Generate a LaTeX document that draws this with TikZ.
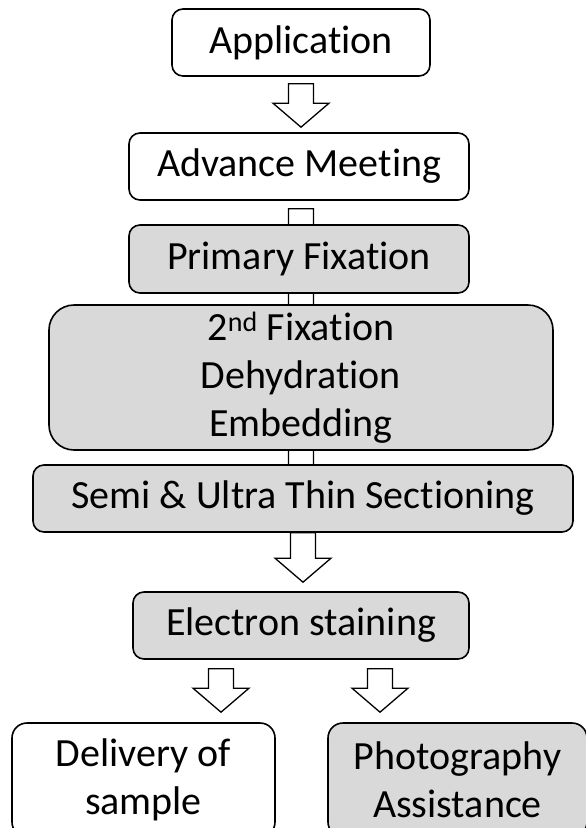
\documentclass[tikz,border=0pt]{standalone}
\usepackage{fontspec}
\setmainfont{Carlito}[Ligatures=NoCommon]
\usetikzlibrary{calc,backgrounds}
\definecolor{boxgray}{HTML}{D9D9D9}

\tikzset{
  stage/.style={draw, line width=1.6pt, rounded corners=11pt, fill=white,
    align=center, inner sep=0pt, font=\fontsize{40}{48}\selectfont},
  shaded/.style={stage, fill=boxgray},
  fat/.style={draw, line width=1.3pt, fill=white,
    to path={let \p1=(\tikztostart), \p2=(\tikztotarget) in
      (\x1-12.5pt,\y1) -- (\x1-12.5pt,\y2+24pt) -- (\x1-28pt,\y2+24pt)
      -- (\x1,\y2) -- (\x1+28pt,\y2+24pt) -- (\x1+12.5pt,\y2+24pt)
      -- (\x1+12.5pt,\y1) -- cycle}}
}

\begin{document}
\begin{tikzpicture}[x=1pt, y=-1pt]
\useasboundingbox (0,0) rectangle (586,828);
\clip (0,0) rectangle (586,828);

% boxes
\node[stage, minimum width=258pt, minimum height=67pt] (app) at (301,42.5) {Application};
\node[stage, minimum width=340pt, minimum height=67pt] (meet) at (299,166.5) {Advance Meeting};
\node[shaded, minimum width=340pt, minimum height=68pt] (prim) at (299,259) {Primary Fixation};
\node[shaded, rounded corners=25pt, minimum width=504pt, minimum height=145pt] (emb) at (301,377.5)
  {2\textsuperscript{nd} Fixation\\Dehydration\\Embedding};
\node[shaded, minimum width=540pt, minimum height=67pt] (sect) at (303,498.5) {Semi \& Ultra Thin Sectioning};
\node[shaded, minimum width=336pt, minimum height=67pt] (stain) at (301,625.5) {Electron staining};
\node[stage, rounded corners=15pt, minimum width=263pt, minimum height=114pt] (deliv) at (143.5,780)
  {Delivery of\\sample};
\node[shaded, rounded corners=15pt, minimum width=259pt, minimum height=114pt] (photo) at (457.5,780)
  {Photography\\Assistance};

% block arrows
\begin{scope}[on background layer]
\draw[fat] ([yshift=-7pt]app.south) to ([yshift=5pt]meet.north);
\draw[fat] ([xshift=2pt,yshift=-8pt]meet.south) to (prim.center);
\draw[fat] ([xshift=2pt]prim.center) to (emb.center);
\draw[fat] (emb.center) to (sect.center);
\draw[fat] (sect.south) to ([yshift=9pt]stain.north);
\draw[fat] ([xshift=-80pt,yshift=-9pt]stain.south) to ([yshift=10pt]deliv.north);
\draw[fat] ([xshift=79pt,yshift=-9pt]stain.south) to ([yshift=10pt]photo.north);
\end{scope}
\end{tikzpicture}
\end{document}
